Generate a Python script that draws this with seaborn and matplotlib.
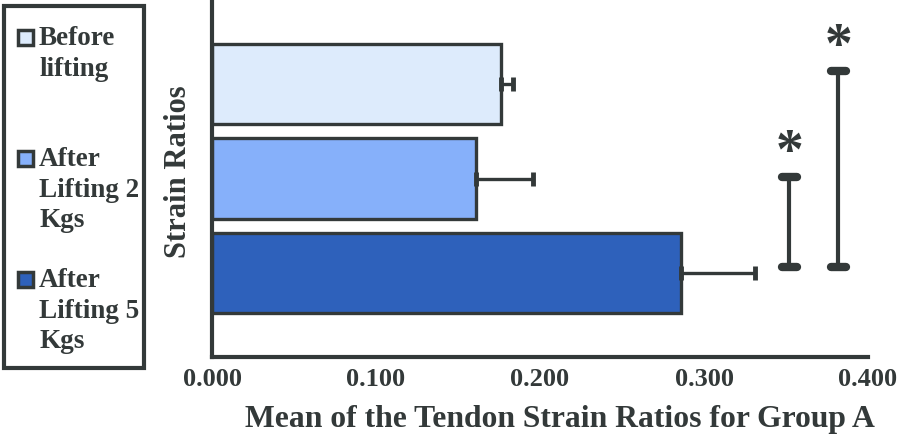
import numpy as np
import matplotlib
matplotlib.use("Agg")
import matplotlib.pyplot as plt
from matplotlib.patches import Rectangle
import seaborn as sns

sns.set_style("white")
plt.rcParams['font.family'] = ['Liberation Serif', 'DejaVu Serif']
plt.rcParams['font.weight'] = 'bold'

# data
groups = ["Before\nlifting", "After\nLifting 2\nKgs", "After\nLifting 5\nKgs"]
means = [0.176, 0.161, 0.286]
errors = [0.0075, 0.035, 0.045]
colors = ["#DDEBFC", "#86B0FA", "#2E61BB"]
# significance brackets
brackets_x = [0.352, 0.382]
brackets_top = [0.98, -0.14]
brackets_bottom = [1.94, 1.94]
xticks = [0.0, 0.1, 0.2, 0.3, 0.4]

dark = "#333939"

fig = plt.figure(figsize=(8.98, 4.36), dpi=100)
ax = fig.add_axes([212 / 898, 1 - 357 / 436, (868 - 212) / 898, 357 / 436])

sns.barplot(x=means, y=groups, hue=groups, palette=colors, legend=False,
            orient="h", width=0.85, saturation=1, edgecolor=dark,
            linewidth=2.4, ax=ax)

pos = np.arange(len(groups))
ax.errorbar(means, pos, xerr=[np.zeros(len(errors)), errors], fmt="none",
            ecolor=dark, elinewidth=2.4, capsize=5, capthick=3.5)

for bx, top, bot in zip(brackets_x, brackets_top, brackets_bottom):
    ax.plot([bx, bx], [top, bot], color=dark, lw=3)
    for yy in (top, bot):
        ax.plot([bx - 0.0045, bx + 0.0045], [yy, yy], color=dark, lw=6,
                solid_capstyle="round")
    ax.text(bx, top - 0.24, "*", ha="center", va="center", fontsize=40,
            color=dark, family="Liberation Serif", fontweight="bold")

ax.set_xlim(0, 0.4)
ax.set_ylim(2.889, -0.889)
ax.set_xticks(xticks)
ax.set_xticklabels([f"{t:.3f}" for t in xticks], fontsize=19, color=dark)
ax.set_yticks([])
ax.tick_params(axis="x", length=0, pad=8)
ax.set_xlabel("Mean of the Tendon Strain Ratios for Group A", fontsize=22.8,
              color=dark, fontweight="bold", labelpad=10)
ax.xaxis.label.set_x(0.53)
ax.set_ylabel("Strain Ratios", fontsize=22, color=dark, fontweight="bold",
              labelpad=14)
ax.yaxis.label.set_y(0.518)
sns.despine(ax=ax)
for s in ("left", "bottom"):
    ax.spines[s].set_linewidth(3)
    ax.spines[s].set_color(dark)

# legend box drawn by hand so the marker sits on the first line
fig.patches.append(Rectangle((4 / 898, 1 - 368 / 436), 140 / 898, 362 / 436,
                             transform=fig.transFigure, fill=False,
                             edgecolor=dark, lw=3))
legend_tops = [26, 147, 268]
for lab, col, yt in zip(groups, colors, legend_tops):
    fig.patches.append(Rectangle((18 / 898, 1 - (yt + 19) / 436), 15 / 898, 15 / 436,
                                 transform=fig.transFigure, facecolor=col,
                                 edgecolor=dark, lw=2.5))
    fig.text(39 / 898, 1 - yt / 436, lab, fontsize=19.5, color=dark,
             va="top", ha="left", linespacing=1.3)

fig.savefig("out.png", dpi=100)
